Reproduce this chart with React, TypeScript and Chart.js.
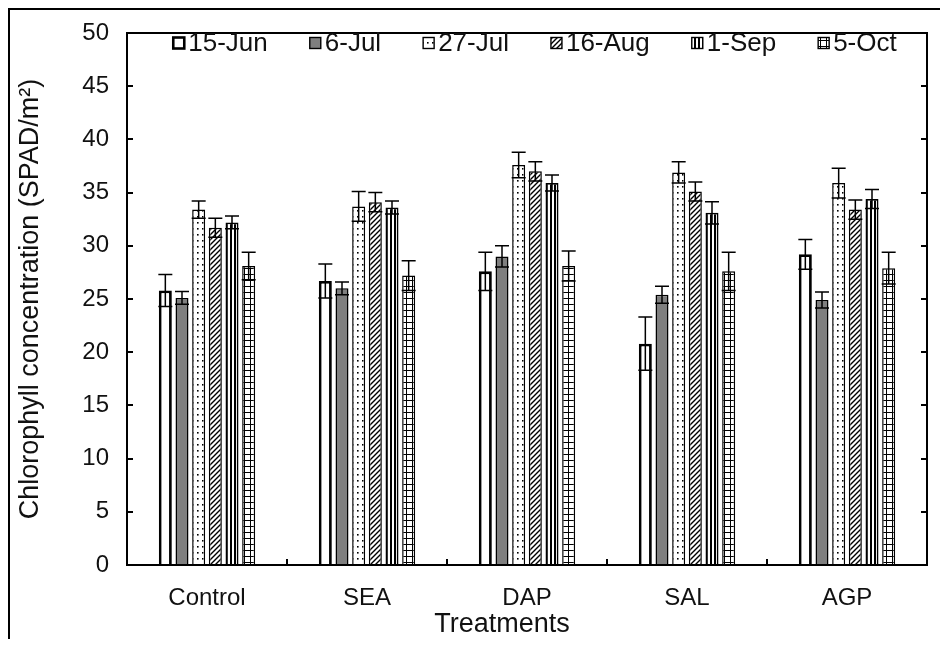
import React, { useEffect, useRef } from 'react';
import { Chart, registerables } from 'chart.js';

Chart.register(...registerables);

const categories = ['Control', 'SEA', 'DAP', 'SAL', 'AGP'];
const seriesNames = ['15-Jun', '6-Jul', '27-Jul', '16-Aug', '1-Sep', '5-Oct'];

const jun15 = [25.8, 26.7, 27.6, 20.8, 29.2];
const jul6 = [25.1, 26.0, 29.0, 25.4, 24.9];
const jul27 = [33.4, 33.7, 37.6, 36.9, 35.9];
const aug16 = [31.7, 34.1, 37.0, 35.1, 33.4];
const sep1 = [32.2, 33.6, 35.9, 33.1, 34.4];
const oct5 = [28.1, 27.2, 28.1, 27.6, 27.9];

const jun15Err = [1.5, 1.6, 1.8, 2.5, 1.4];
const jul6Err = [0.6, 0.6, 1.0, 0.8, 0.75];
const jul27Err = [0.8, 1.4, 1.2, 1.0, 1.4];
const aug16Err = [0.9, 0.9, 0.9, 0.9, 0.9];
const sep1Err = [0.6, 0.6, 0.75, 1.05, 0.9];
const oct5Err = [1.3, 1.4, 1.4, 1.8, 1.5];

const yMin = 0;
const yMax = 50;
const yStep = 5;

const xTitle = 'Treatments';
const yTitle = 'Chlorophyll concentration (SPAD/m²)';

const seriesValues = [jun15, jul6, jul27, aug16, sep1, oct5];
const seriesErrors = [jun15Err, jul6Err, jul27Err, aug16Err, sep1Err, oct5Err];
const patternKinds = ['white', 'gray', 'dots', 'diag', 'vstripe', 'grid'];

const FONT = '"Liberation Sans", Arial, Helvetica, sans-serif';
const TEXT = '#111';

function makeFill(kind: string): CanvasPattern | string {
  if (kind === 'white') return '#ffffff';
  if (kind === 'gray') return '#7f7f7f';
  const c = document.createElement('canvas');
  const ctx = c.getContext('2d')!;
  if (kind === 'dots') {
    c.width = 5; c.height = 6;
    ctx.fillStyle = '#fff'; ctx.fillRect(0, 0, 5, 6);
    ctx.fillStyle = '#000'; ctx.fillRect(2, 2, 1.6, 1.6);
  } else if (kind === 'diag') {
    c.width = 5; c.height = 5;
    ctx.fillStyle = '#fff'; ctx.fillRect(0, 0, 5, 5);
    ctx.strokeStyle = '#000'; ctx.lineWidth = 1.4;
    ctx.beginPath();
    ctx.moveTo(-1, 6); ctx.lineTo(6, -1);
    ctx.moveTo(-1, 1); ctx.lineTo(1, -1);
    ctx.moveTo(4, 6); ctx.lineTo(6, 4);
    ctx.stroke();
  } else if (kind === 'vstripe') {
    c.width = 4; c.height = 4;
    ctx.fillStyle = '#fff'; ctx.fillRect(0, 0, 4, 4);
    ctx.fillStyle = '#000'; ctx.fillRect(0, 0, 2, 4);
  } else if (kind === 'grid') {
    c.width = 6; c.height = 6;
    ctx.fillStyle = '#fff'; ctx.fillRect(0, 0, 6, 6);
    ctx.fillStyle = '#000'; ctx.fillRect(0, 0, 1, 6); ctx.fillRect(0, 0, 6, 1);
  }
  return ctx.createPattern(c, 'repeat') as CanvasPattern;
}

export default function App() {
  const canvasRef = useRef<HTMLCanvasElement | null>(null);

  useEffect(() => {
    if (!canvasRef.current) return;
    const fills = patternKinds.map(makeFill);
    const borderWidths = [2.8, 1.5, 1.5, 1.5, 1.8, 1.5];

    const errorBars = {
      id: 'errorBars',
      afterDatasetsDraw(chart: any) {
        const ctx = chart.ctx;
        const ys = chart.scales.y;
        chart.data.datasets.forEach((ds: any, i: number) => {
          const meta = chart.getDatasetMeta(i);
          const errs = seriesErrors[i];
          meta.data.forEach((bar: any, j: number) => {
            const v = ds.data[j];
            const e = errs[j];
            const x = bar.x;
            const hw = bar.width / 2 + 0.5;
            const yt = ys.getPixelForValue(v + e);
            const yb = ys.getPixelForValue(v - e);
            ctx.save();
            ctx.strokeStyle = '#000';
            ctx.lineWidth = 1.5;
            ctx.beginPath();
            ctx.moveTo(x, yt); ctx.lineTo(x, yb);
            ctx.moveTo(x - hw, yt); ctx.lineTo(x + hw, yt);
            ctx.moveTo(x - hw, yb); ctx.lineTo(x + hw, yb);
            ctx.stroke();
            ctx.restore();
          });
        });
      },
    };

    const frame = {
      id: 'frame',
      afterDraw(chart: any) {
        const ctx = chart.ctx;
        const ca = chart.chartArea;
        const ys = chart.scales.y;
        ctx.save();
        ctx.strokeStyle = '#000';
        ctx.lineWidth = 2;
        ctx.strokeRect(ca.left, ca.top, ca.right - ca.left, ca.bottom - ca.top);
        ctx.beginPath();
        for (let v = yMin; v <= yMax; v += yStep) {
          const y = Math.round(ys.getPixelForValue(v));
          ctx.moveTo(ca.left, y); ctx.lineTo(ca.left + 6, y);
          ctx.moveTo(ca.right, y); ctx.lineTo(ca.right - 6, y);
        }
        const n = categories.length;
        const cw = (ca.right - ca.left) / n;
        for (let i = 1; i < n; i++) {
          const x = Math.round(ca.left + i * cw);
          ctx.moveTo(x, ca.bottom); ctx.lineTo(x, ca.bottom - 6);
        }
        ctx.stroke();

        // x-axis title
        ctx.fillStyle = TEXT;
        ctx.font = `27px ${FONT}`;
        ctx.textAlign = 'center';
        ctx.textBaseline = 'middle';
        ctx.fillText(xTitle, (ca.left + ca.right) / 2 - 25, ca.bottom + 60);

        // legend
        ctx.font = `26px ${FONT}`;
        ctx.textBaseline = 'middle';
        ctx.textAlign = 'left';
        const box = 11, gapBox = 4, gapItem = 42;
        const widths = seriesNames.map((s) => box + gapBox + ctx.measureText(s).width);
        const total = widths.reduce((a, b) => a + b, 0) + gapItem * (seriesNames.length - 1);
        let x = (ca.left + ca.right) / 2 - total / 2 + 8;
        const cy = ca.top + 10;
        seriesNames.forEach((s, i) => {
          ctx.fillStyle = fills[i] as any;
          ctx.fillRect(x, cy - box / 2, box, box);
          ctx.lineWidth = i === 0 ? 2.6 : 1.4;
          ctx.strokeStyle = '#000';
          ctx.strokeRect(x, cy - box / 2, box, box);
          ctx.fillStyle = TEXT;
          ctx.fillText(s, x + box + gapBox, cy + 1);
          x += widths[i] + gapItem;
        });
        ctx.restore();
      },
    };

    const chart = new Chart(canvasRef.current, {
      type: 'bar',
      data: {
        labels: categories,
        datasets: seriesNames.map((name, i) => ({
          label: name,
          data: seriesValues[i],
          backgroundColor: fills[i] as any,
          borderColor: '#000',
          borderWidth: borderWidths[i],
          barPercentage: 0.78,
          categoryPercentage: 0.625,
        })),
      },
      options: {
        animation: false,
        responsive: true,
        maintainAspectRatio: false,
        layout: { padding: { top: 23, right: 13, left: 0, bottom: 0 } },
        plugins: { legend: { display: false }, tooltip: { enabled: false } },
        scales: {
          x: {
            grid: { display: false, drawTicks: false },
            border: { display: false },
            ticks: { font: { family: FONT, size: 24 }, color: TEXT, padding: 19 },
            title: { display: false, text: xTitle },
            afterFit: (s: any) => {
              s.height = 74;
              s.paddingLeft = 0;
              s.paddingRight = 0;
            },
          },
          y: {
            min: yMin,
            max: yMax,
            grid: { display: false, drawTicks: false },
            border: { display: false },
            ticks: { stepSize: yStep, font: { family: FONT, size: 24 }, color: TEXT, padding: 18 },
            title: {
              display: true,
              text: yTitle,
              font: { family: FONT, size: 27 },
              color: TEXT,
              padding: { top: 4, bottom: 0 },
            },
            afterFit: (s: any) => {
              s.width = 117;
              s.paddingTop = 0;
              s.paddingBottom = 0;
            },
          },
        },
      } as any,
      plugins: [errorBars, frame],
    });
    return () => chart.destroy();
  }, []);

  return (
    <div
      style={{
        width: 932,
        height: 631,
        borderLeft: '2px solid #000',
        borderTop: '2px solid #000',
        boxSizing: 'border-box',
        background: '#fff',
      }}
    >
      <div style={{ position: 'relative', width: 930, height: 629 }}>
        <canvas ref={canvasRef} />
      </div>
    </div>
  );
}
